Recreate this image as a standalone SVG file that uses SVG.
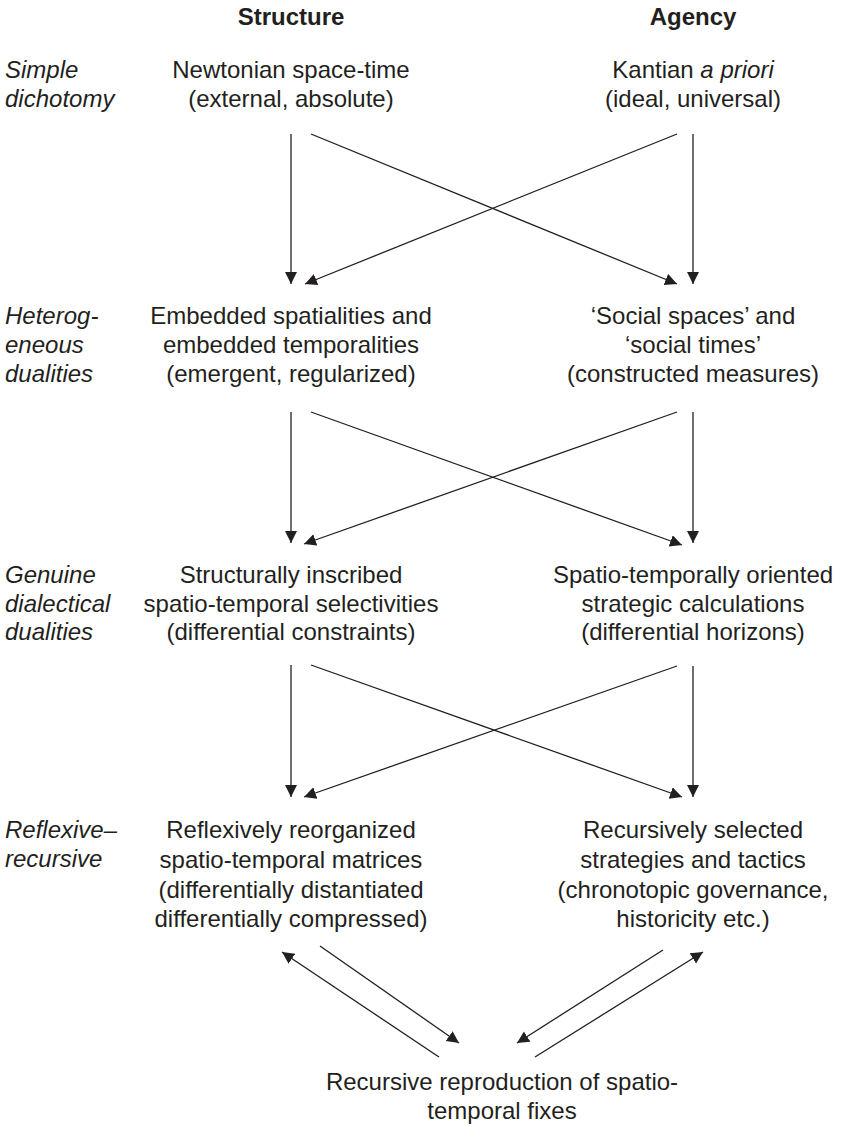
<svg xmlns="http://www.w3.org/2000/svg" width="843" height="1126" viewBox="0 0 843 1126">
  <style>
    text { font-family: "Liberation Sans", Arial, Helvetica, sans-serif; font-size: 24px; fill: #231f20; }
    .head { font-weight: bold; text-anchor: middle; }
    .mid { text-anchor: middle; }
    .side { font-style: italic; }
    .it { font-style: italic; }
    .conn line { stroke: #231f20; stroke-width: 1.3; marker-end: url(#tip); }
  </style>
  <defs>
    <marker id="tip" markerUnits="userSpaceOnUse" markerWidth="13" markerHeight="13" refX="12" refY="6" orient="auto">
      <path d="M0,0 L12,6 L0,12 z" fill="#231f20"/>
    </marker>
  </defs>
  <rect width="843" height="1126" fill="#ffffff"/>

  <!-- column headings -->
  <g id="heading-structure"><text class="head" x="291" y="25">Structure</text></g>
  <g id="heading-agency"><text class="head" x="693" y="25">Agency</text></g>

  <!-- row labels -->
  <g id="label-simple">
    <text class="side" x="5" y="78">Simple</text>
    <text class="side" x="5" y="107">dichotomy</text>
  </g>
  <g id="label-heterogeneous">
    <text class="side" x="5" y="324">Heterog-</text>
    <text class="side" x="5" y="353">eneous</text>
    <text class="side" x="5" y="382">dualities</text>
  </g>
  <g id="label-genuine">
    <text class="side" x="5" y="583">Genuine</text>
    <text class="side" x="5" y="612">dialectical</text>
    <text class="side" x="5" y="640">dualities</text>
  </g>
  <g id="label-reflexive">
    <text class="side" x="5" y="838">Reflexive–</text>
    <text class="side" x="5" y="867">recursive</text>
  </g>

  <!-- row 1 -->
  <g id="newtonian">
    <text class="mid" x="291" y="78">Newtonian space-time</text>
    <text class="mid" x="291" y="107">(external, absolute)</text>
  </g>
  <g id="kantian">
    <text class="mid" x="693" y="78">Kantian <tspan class="it">a priori</tspan></text>
    <text class="mid" x="693" y="107">(ideal, universal)</text>
  </g>

  <!-- row 2 -->
  <g id="embedded">
    <text class="mid" x="291" y="324">Embedded spatialities and</text>
    <text class="mid" x="291" y="353">embedded temporalities</text>
    <text class="mid" x="291" y="382">(emergent, regularized)</text>
  </g>
  <g id="social">
    <text class="mid" x="693" y="324">‘Social spaces’ and</text>
    <text class="mid" x="693" y="353">‘social times’</text>
    <text class="mid" x="693" y="382">(constructed measures)</text>
  </g>

  <!-- row 3 -->
  <g id="inscribed">
    <text class="mid" x="291" y="583">Structurally inscribed</text>
    <text class="mid" x="291" y="612">spatio-temporal selectivities</text>
    <text class="mid" x="291" y="640">(differential constraints)</text>
  </g>
  <g id="strategic">
    <text class="mid" x="693" y="583">Spatio-temporally oriented</text>
    <text class="mid" x="693" y="612">strategic calculations</text>
    <text class="mid" x="693" y="640">(differential horizons)</text>
  </g>

  <!-- row 4 -->
  <g id="reorganized">
    <text class="mid" x="291" y="838">Reflexively reorganized</text>
    <text class="mid" x="291" y="868">spatio-temporal matrices</text>
    <text class="mid" x="291" y="898">(differentially distantiated</text>
    <text class="mid" x="291" y="927">differentially compressed)</text>
  </g>
  <g id="selected">
    <text class="mid" x="693" y="838">Recursively selected</text>
    <text class="mid" x="693" y="868">strategies and tactics</text>
    <text class="mid" x="693" y="898">(chronotopic governance,</text>
    <text class="mid" x="693" y="927">historicity etc.)</text>
  </g>

  <!-- bottom -->
  <g id="reproduction">
    <text class="mid" x="502" y="1090">Recursive reproduction of spatio-</text>
    <text class="mid" x="502" y="1119">temporal fixes</text>
  </g>

  <g id="connectors" class="conn">
    <!-- row 1 to row 2 -->
    <line x1="291" y1="134" x2="291" y2="284"/>
    <line x1="693" y1="134" x2="693" y2="284"/>
    <line x1="311" y1="134" x2="677" y2="284"/>
    <line x1="677" y1="134" x2="305" y2="284"/>
    <!-- row 2 to row 3 -->
    <line x1="291" y1="412" x2="291" y2="543"/>
    <line x1="693" y1="412" x2="693" y2="543"/>
    <line x1="311" y1="412" x2="682" y2="545"/>
    <line x1="677" y1="412" x2="304" y2="544"/>
    <!-- row 3 to row 4 -->
    <line x1="291" y1="665" x2="291" y2="797"/>
    <line x1="693" y1="666" x2="693" y2="797"/>
    <line x1="311" y1="665" x2="682" y2="797"/>
    <line x1="677" y1="666" x2="304" y2="797"/>
    <!-- row 4 and the reproduction loop -->
    <line x1="439" y1="1057" x2="282" y2="952"/>
    <line x1="320" y1="946" x2="459" y2="1043"/>
    <line x1="663" y1="950" x2="517" y2="1043"/>
    <line x1="535" y1="1057" x2="703" y2="952"/>
  </g>
</svg>
